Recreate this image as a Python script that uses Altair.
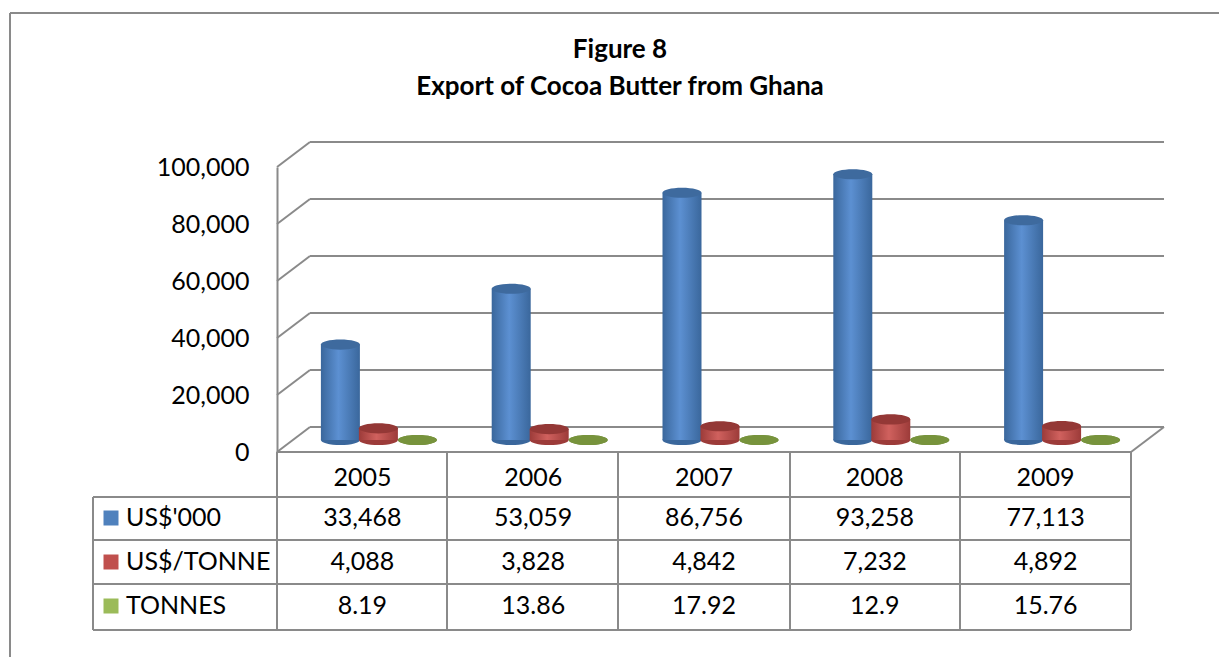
import altair as alt
import pandas as pd

years = ["2005", "2006", "2007", "2008", "2009"]
usd_000 = [33468, 53059, 86756, 93258, 77113]
usd_tonne = [4088, 3828, 4842, 7232, 4892]
tonnes = [8.19, 13.86, 17.92, 12.9, 15.76]
tonnes_labels = ["8.19", "13.86", "17.92", "12.9", "15.76"]
series_names = ["US$'000", "US$/TONNE", "TONNES"]
series_colors = ["#4F81BD", "#C0504D", "#9BBB59"]
y_ticks = [0, 20000, 40000, 60000, 80000, 100000]
title_lines = ["Figure 8", "Export of Cocoa Butter from Ghana"]

FONT = "Lato"
GRID = "#8A8A8A"
W, H = 854, 285
DX, DY = 33, -25  # depth of the 3D box

df = pd.DataFrame({
    "year": years,
    "usd000": usd_000,
    "usdt": usd_tonne,
    "tonnes": tonnes,
    "tonnes_label": tonnes_labels,
})
ticks_df = pd.DataFrame({"v": y_ticks})
one = alt.Data(values=[{}])

xs = alt.X("year:O", scale=alt.Scale(domain=years, paddingInner=0, paddingOuter=0),
           axis=None)
yscale = alt.Scale(domain=[0, 100000])


def grad(dark, light):
    return alt.LinearGradient(
        gradient="linear", x1=0, x2=1, y1=0, y2=0,
        stops=[alt.GradientStop(color=dark, offset=0),
               alt.GradientStop(color=light, offset=0.45),
               alt.GradientStop(color=dark, offset=1)])


ELLIPSE = "M-1,0 A1,0.26 0 1,0 1,0 A1,0.26 0 1,0 -1,0 Z"
BW = 39

layers = []

# back wall grid lines + diagonals on the side wall
layers.append(alt.Chart(ticks_df).mark_rule(color=GRID, strokeWidth=2, yOffset=DY).encode(
    y=alt.Y("v:Q", scale=yscale,
            axis=alt.Axis(values=y_ticks, format=",d", title=None, ticks=False, grid=False,
                          domainColor=GRID, domainWidth=2, labelFont=FONT, labelFontSize=25,
                          labelColor="black", labelPadding=28)),
    x=alt.value(DX), x2=alt.value(W + DX)))
layers.append(alt.Chart(ticks_df).mark_rule(color=GRID, strokeWidth=2, y2Offset=DY).encode(
    y=alt.Y("v:Q", scale=yscale), y2="v:Q", x=alt.value(0), x2=alt.value(DX)))
# right floor edge
layers.append(alt.Chart(ticks_df).transform_filter("datum.v == 0").mark_rule(
    color=GRID, strokeWidth=2, y2Offset=DY).encode(
    y=alt.Y("v:Q", scale=yscale), y2="v:Q", x=alt.value(W), x2=alt.value(W + DX)))

# cylinders
specs = [
    ("usd000", -22, grad("#3A679C", "#5C90D2"), "#3E6A9E", "#3A679C"),
    ("usdt", 16, grad("#9C3B39", "#D0615E"), "#943836", "#9C3B39"),
    ("tonnes", 55, grad("#6E8A36", "#8CAB4C"), "#77933C", "#6E8A36"),
]
for field, off, g, top, bottom in specs:
    layers.append(alt.Chart(df).mark_point(shape=ELLIPSE, filled=True, opacity=1, size=BW * BW,
                                           fill=bottom, strokeWidth=0,
                                           xOffset=off, yOffset=-12).encode(
        x=xs, y=alt.datum(0, scale=yscale)))
    layers.append(alt.Chart(df).mark_bar(width=BW, color=g, xOffset=off, yOffset=-12,
                                         y2Offset=-12).encode(
        x=xs, y=alt.Y(f"{field}:Q", scale=yscale), y2=alt.datum(0)))
    layers.append(alt.Chart(df).mark_point(shape=ELLIPSE, filled=True, opacity=1, size=BW * BW,
                                           fill=top, strokeWidth=0,
                                           xOffset=off, yOffset=-12).encode(
        x=xs, y=alt.Y(f"{field}:Q", scale=yscale)))

# table lines
def rule(x1, x2, y1, y2):
    return alt.Chart(one).mark_rule(color=GRID, strokeWidth=2).encode(
        x=alt.value(x1), x2=alt.value(x2), y=alt.value(y1), y2=alt.value(y2))

col_edges = [0, 170, 341, 513, 683, 854]
for cx in col_edges:
    layers.append(rule(cx, cx, H, 463))
layers.append(rule(-184, -184, 330, 463))
layers.append(rule(0, W, H, H))
for ry in [330, 373, 417, 463]:
    layers.append(rule(-184, W, ry, ry))
# outer frame
layers.append(rule(-267, -267, -154, 500))
layers.append(rule(-267, 960, -154, -154))

# title
tstyle = dict(font=FONT, fontSize=26, fontWeight="bold", color="black", baseline="middle")
layers.append(alt.Chart(one).mark_text(text=title_lines[0], **tstyle).encode(
    x=alt.value(343), y=alt.value(-117)))
layers.append(alt.Chart(one).mark_text(text=title_lines[1], **tstyle).encode(
    x=alt.value(343), y=alt.value(-80)))

# table text
txt = dict(font=FONT, fontSize=25, color="black", baseline="middle")
layers.append(alt.Chart(df).mark_text(**txt).encode(x=xs, y=alt.value(311), text="year:N"))
layers.append(alt.Chart(df).mark_text(**txt).encode(
    x=xs, y=alt.value(351), text=alt.Text("usd000:Q", format=",d")))
layers.append(alt.Chart(df).mark_text(**txt).encode(
    x=xs, y=alt.value(395), text=alt.Text("usdt:Q", format=",d")))
layers.append(alt.Chart(df).mark_text(**txt).encode(
    x=xs, y=alt.value(439), text="tonnes_label:N"))

legend_df = pd.DataFrame({"name": series_names, "color": series_colors, "ry": [351, 395, 439]})
layers.append(alt.Chart(legend_df).mark_square(size=225, filled=True, opacity=1).encode(
    x=alt.value(-166), y=alt.Y("ry:Q", scale=None),
    color=alt.Color("color:N", scale=None)))
layers.append(alt.Chart(legend_df).mark_text(align="left", **txt).encode(
    x=alt.value(-151), y=alt.Y("ry:Q", scale=None), text="name:N"))

chart = alt.layer(*layers).properties(
    width=W, height=H,
    background="white",
    autosize=alt.AutoSizeParams(type="none"),
    padding={"left": 277, "top": 167, "right": 88, "bottom": 205},
).configure_view(stroke=None, strokeWidth=0)

chart.save("out.html", embed_options={"renderer": "svg", "actions": False})
